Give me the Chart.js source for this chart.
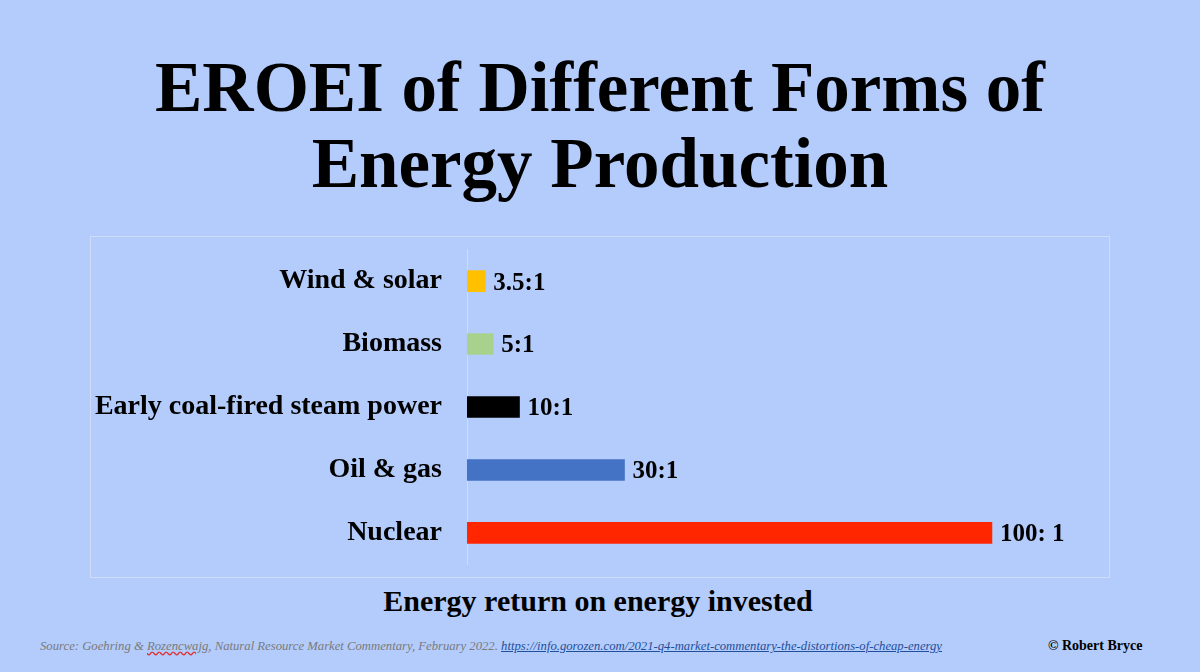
<!DOCTYPE html>
<html>
<head>
<meta charset="utf-8">
<script src="https://cdn.jsdelivr.net/npm/chart.js@4.4.1/dist/chart.umd.min.js"></script>
<style>
  html, body { margin:0; padding:0; }
  body { width:1200px; height:672px; background:#B3CCFC; position:relative; overflow:hidden; font-family:"Liberation Serif","Times New Roman",serif; }
  #title { position:absolute; left:0; top:49px; width:1200px; text-align:center; font-weight:bold; font-size:71px; line-height:76px; color:#000; }
  #box { position:absolute; left:90px; top:236px; width:1020px; height:342px; box-sizing:border-box; border:1px solid #CEDCF8; }
  #box canvas { display:block; }
  #xtitle { position:absolute; left:0; top:584px; width:1196px; text-align:center; font-weight:bold; font-size:30px; line-height:34px; color:#000; }
  #source { position:absolute; left:40px; top:639px; font-style:italic; font-size:12.7px; line-height:15px; color:#7A7A7A; white-space:nowrap; }
  #source .sp { text-decoration: underline wavy #E03030; }
  #source a { color:#1F4E9A; text-decoration:underline; }
  #copy { position:absolute; left:1048px; top:638px; font-weight:bold; font-size:14px; line-height:16px; color:#000; white-space:nowrap; }
</style>
</head>
<body>
<div id="title">EROEI of Different Forms of<br>Energy Production</div>
<div id="box"><canvas id="c" width="1018" height="340"></canvas></div>
<div id="xtitle">Energy return on energy invested</div>
<div id="source">Source: Goehring &amp; <span class="sp">Rozencwajg</span>, Natural Resource Market Commentary, February 2022. <a href="#">https://info.gorozen.com/2021-q4-market-commentary-the-distortions-of-cheap-energy</a></div>
<div id="copy">© Robert Bryce</div>
<script>
const categories = ["Wind & solar", "Biomass", "Early coal-fired steam power", "Oil & gas", "Nuclear"];
const eroeiValues = [3.5, 5, 10, 30, 100];
const valueLabels = ["3.5:1", "5:1", "10:1", "30:1", "100: 1"];
const barColors = ["#FFC000", "#A9D18E", "#000000", "#4472C4", "#FF2600"];

const valueLabelPlugin = {
  id: 'valueLabels',
  afterDatasetsDraw(chart) {
    const ctx = chart.ctx;
    const meta = chart.getDatasetMeta(0);
    ctx.save();
    ctx.font = 'bold 25px "Liberation Serif", "Times New Roman", serif';
    ctx.fillStyle = '#000';
    ctx.textAlign = 'left';
    ctx.textBaseline = 'middle';
    meta.data.forEach((bar, i) => {
      ctx.fillText(valueLabels[i], bar.x + 8, bar.y + 2);
    });
    ctx.restore();
  }
};

new Chart(document.getElementById('c'), {
  type: 'bar',
  data: {
    labels: categories,
    datasets: [{
      data: eroeiValues,
      backgroundColor: barColors,
      borderWidth: 0,
      barThickness: 21
    }]
  },
  options: {
    indexAxis: 'y',
    responsive: false,
    animation: false,
    devicePixelRatio: 1,
    layout: { padding: { top: 0, bottom: 0, left: 0, right: 0 } },
    plugins: { legend: { display: false }, tooltip: { enabled: false } },
    scales: {
      x: {
        display: false,
        min: 0,
        max: 122.3
      },
      y: {
        afterFit(scale) { scale.width = 376; },
        grid: { display: false, drawTicks: true, tickLength: 25 },
        border: { display: true, color: '#CEDCF8', width: 1 },
        ticks: {
          padding: 0,
          color: '#000',
          font: { family: '"Liberation Serif", "Times New Roman", serif', size: 28, weight: 'bold', lineHeight: 0.9 }
        }
      }
    }
  },
  plugins: [valueLabelPlugin]
});
</script>
</body>
</html>
